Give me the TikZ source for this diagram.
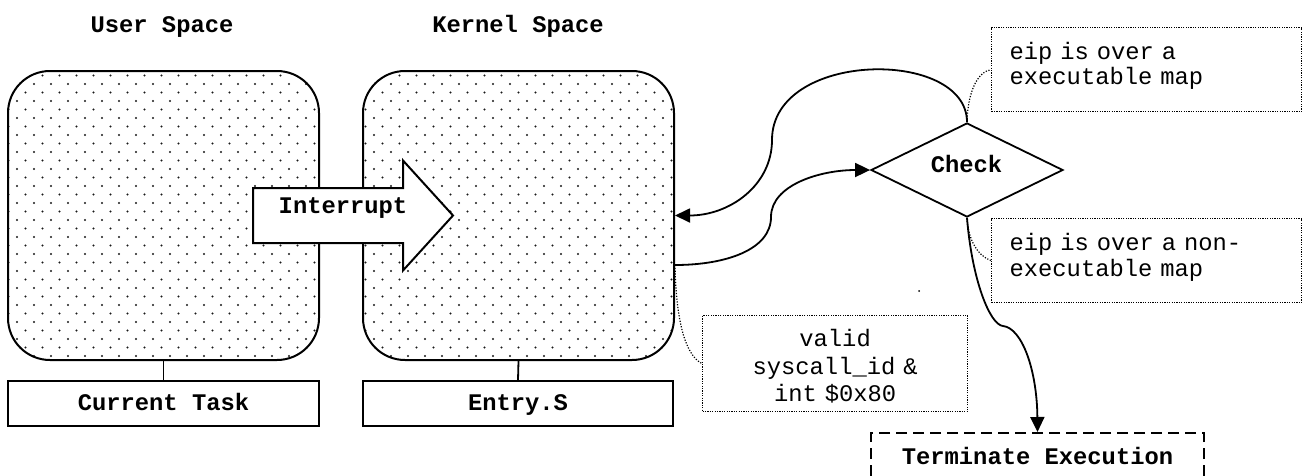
\documentclass[tikz,border=0pt]{standalone}
\usepackage{fontspec}
\setmainfont{Liberation Mono}
\setmonofont{Liberation Mono}
\usetikzlibrary{arrows.meta,shapes.geometric,patterns}

% sparse staggered dot fill for the address-space blocks
\pgfdeclarepatternformonly{sparsedots}{\pgfqpoint{-1.5pt}{-1.5pt}}{\pgfqpoint{10pt}{10pt}}{\pgfqpoint{17pt}{17pt}}{%
  \pgfpathcircle{\pgfqpoint{0pt}{0pt}}{1.1pt}%
  \pgfpathcircle{\pgfqpoint{8.5pt}{8.5pt}}{1.1pt}%
  \pgfusepath{fill}}

\newcommand\diagbold{\fontsize{23.8pt}{25.5pt}\selectfont\bfseries}
\newcommand\diagplain{\fontsize{23.8pt}{25.5pt}\selectfont}

\tikzset{
  spacebox/.style={draw, line width=2pt, rounded corners=42pt,
    pattern=sparsedots, pattern color=black!90,
    minimum width=311pt, minimum height=289pt, inner sep=0pt},
  taskbox/.style={draw, line width=2pt, minimum height=45pt, inner sep=0pt,
    font=\diagbold, text height=13.7pt, text depth=0pt},
  title/.style={font=\diagbold, anchor=base, inner sep=0pt},
  conn/.style={line width=1.8pt},
  tip/.style={-{Triangle[length=15pt,width=14pt]}},
  note/.style={draw, line width=1.2pt, dash pattern=on 1.2pt off 1.2pt,
    inner ysep=0pt, font=\diagplain, anchor=north west},
  link/.style={line width=1.2pt, dash pattern=on 1.2pt off 1.6pt},
}

\begin{document}
\begin{tikzpicture}[x=1pt, y=-1pt]
\useasboundingbox (0,0) rectangle (1302,475);
\clip (0,0) rectangle (1302,475);

% address spaces
\node[spacebox] (ubox) at (163.5,215.5) {};
\node[spacebox] (kbox) at (518.5,215.5) {};
\node[title] (utitle) at (162,32.5) {User Space};
\node[title] (ktitle) at (518,32.5) {Kernel Space};

% owners below each space
\node[taskbox, minimum width=311pt] (utask) at (163.5,403.5) {Current Task};
\node[taskbox, minimum width=310pt] (ktask) at (518,403.5) {Entry.S};
\draw[line width=1.8pt] (ubox.south) -- (utask.north);
\draw[line width=1.8pt] (kbox.south) -- (ktask.north);

% block arrow crossing into kernel space
\draw[line width=2pt, fill=white]
  (253,188) -- (403,188) -- (403,160.5) -- (453,215.5) -- (403,270.5)
  -- (403,243) -- (253,243) -- cycle;
\node[title] (intr) at (343,213) {Interrupt};

% decision
\node[draw, diamond, line width=1.8pt, minimum width=192pt, minimum height=94pt,
  inner sep=0pt] (check) at (967,170) {};
\node[title] (checklbl) at (966.5,172) {Check};

\node[draw, line width=2pt, dash pattern=on 11pt off 6pt, minimum width=333pt,
  minimum height=50pt, inner sep=0pt, font=\diagbold, text height=13.7pt,
  text depth=0pt] (term) at (1037.5,458) {Terminate Execution};

% annotations
\node[note, minimum height=84pt, text width=274pt, inner xsep=18pt, align=left]
  (n1) at (991,27) {eip is over a\\executable map\rule[-12pt]{0pt}{12pt}};
\node[note, minimum height=84pt, text width=274pt, inner xsep=18pt, align=left]
  (n2) at (991,218) {eip is over a non-\\executable map\rule[-11pt]{0pt}{11pt}};
\node[note, minimum height=96pt, text width=245pt, inner xsep=10pt, align=center]
  (n3) at (702,315) {\rule{0pt}{23pt}valid\\[2pt]syscall\_id \&\\[2pt]int \$0x80};

\coordinate (kout) at ([yshift=-49.5pt]kbox.east);

% flow
\draw[conn, tip] (check.north) .. controls (967,48) and (772,50) .. (772,140)
  .. controls (772,185) and (730,215.5) .. (kbox.east);
\draw[conn, tip] (kout) .. controls (725,265) and (771,250) .. (771,217)
  .. controls (771,185) and (820,170) .. (check.west);
\draw[conn, tip] (check.south) .. controls (972,280) and (990,325) .. (1003,326)
  .. controls (1022,328) and (1037,370) .. (term.north);

% annotation leaders
\draw[link] (check.north) .. controls (968,90) and (978,72) .. (n1.west);
\draw[link] (check.south) .. controls (968,240) and (978,256) .. (n2.west);
\draw[link] (kout) .. controls (676,320) and (685,355) .. (n3.west);

\fill (919,291) circle[radius=1pt];
\end{tikzpicture}
\end{document}
